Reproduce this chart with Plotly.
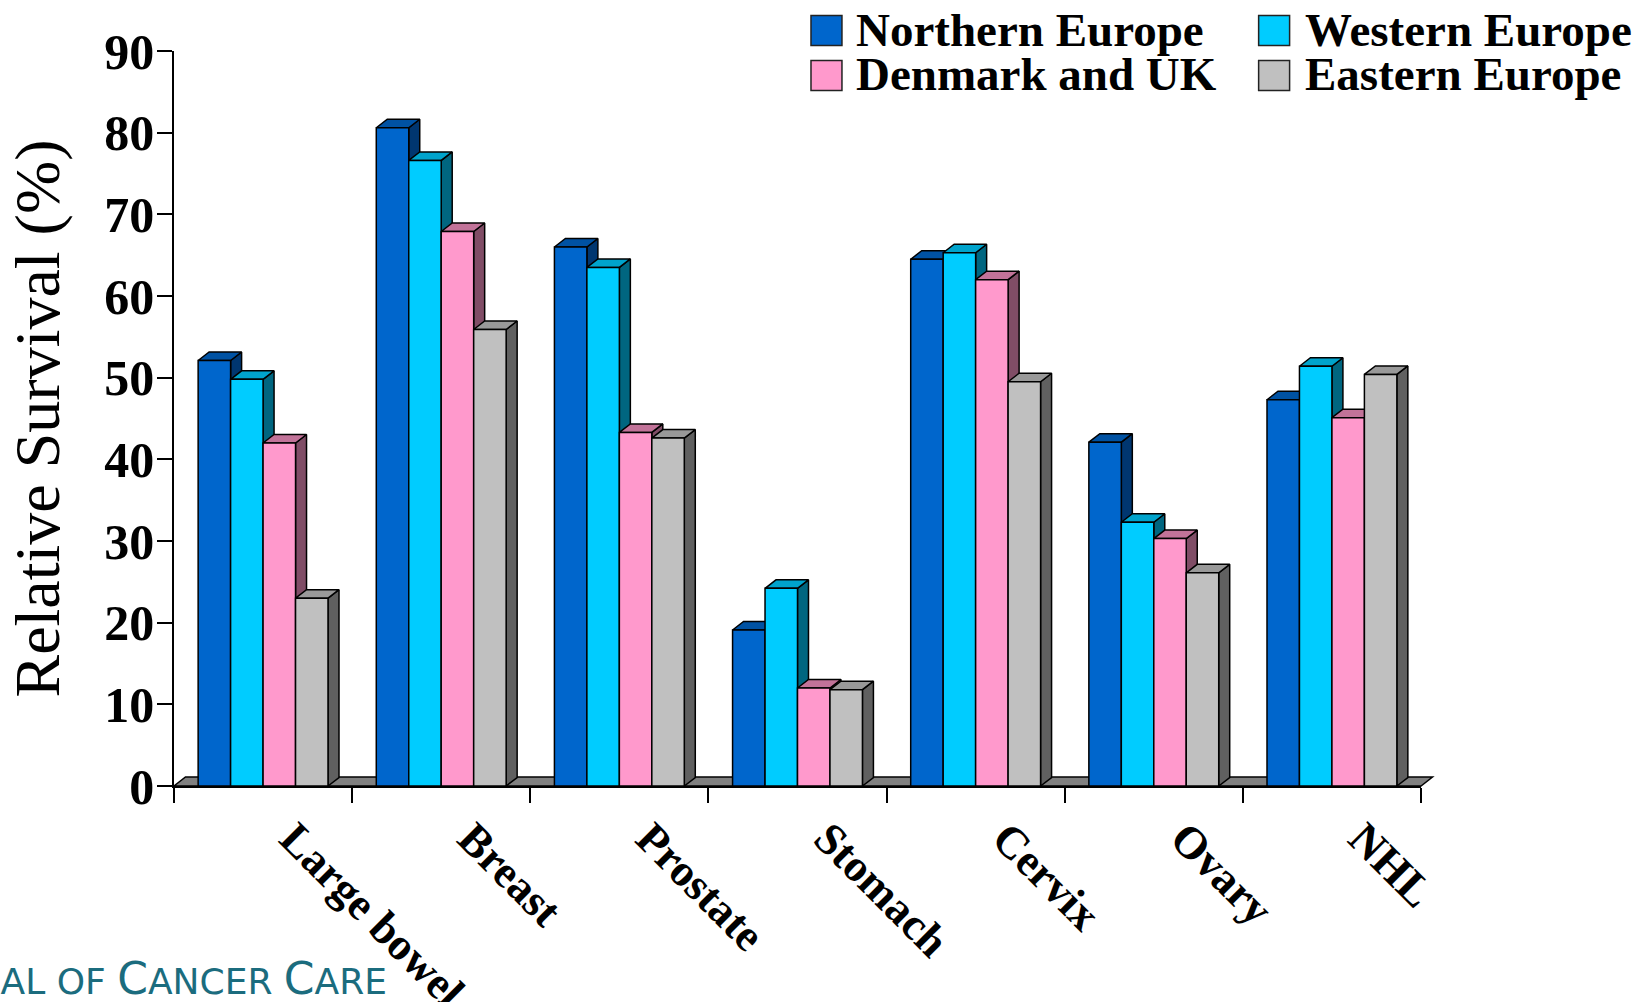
import plotly.graph_objects as go

# Relative survival (%) by cancer site and region
sites = ["Large bowel", "Breast", "Prostate", "Stomach", "Cervix", "Ovary", "NHL"]
regions = ["Northern Europe", "Western Europe", "Denmark and UK", "Eastern Europe"]
northern = [52.1, 80.6, 66.0, 19.1, 64.5, 42.1, 47.3]
western = [49.8, 76.6, 63.5, 24.2, 65.3, 32.3, 51.4]
denmark_uk = [42.0, 67.9, 43.3, 12.0, 62.0, 30.3, 45.1]
eastern = [23.0, 55.9, 42.6, 11.8, 49.5, 26.1, 50.4]
y_ticks = [0, 10, 20, 30, 40, 50, 60, 70, 80, 90]

front_colors = ["#0066CC", "#00CCFF", "#FF99CC", "#C0C0C0"]
top_colors = ["#0052A3", "#00A3CC", "#C27399", "#999999"]
side_colors = ["#003670", "#006680", "#804D66", "#606060"]
floor_color = "#808080"

W, H = 1651, 1002
LEFT, RIGHT, TOP, BOTTOM = 173.5, 1421.5, 50.5, 786.2
SERIF = "Liberation Serif"

BARGAP = 0.271
BAR_W = (1 - BARGAP) / 4
DX = 11 / ((RIGHT - LEFT) / 7)      # extrusion depth, in category units
DY = 8.5 / ((BOTTOM - TOP) / 90)    # extrusion rise, in percentage units

fig = go.Figure()


def poly_trace(xs, ys, color):
    return go.Scatter(
        x=xs, y=ys, mode="lines", fill="toself", fillcolor=color,
        line=dict(color="#000000", width=1.5), hoverinfo="skip",
        showlegend=False, xaxis="x", yaxis="y",
    )


# Extruded side and top faces, painted series by series
series = [northern, western, denmark_uk, eastern]
for s, values in enumerate(series):
    side_x, side_y, top_x, top_y = [], [], [], []
    for i, v in enumerate(values):
        x0 = i - (1 - BARGAP) / 2 + s * BAR_W
        x1 = x0 + BAR_W
        side_x += [x1, x1 + DX, x1 + DX, x1, x1, None]
        side_y += [0, DY, v + DY, v, 0, None]
        top_x += [x0, x0 + DX, x1 + DX, x1, x0, None]
        top_y += [v, v + DY, v + DY, v, v, None]
    fig.add_trace(poly_trace(side_x, side_y, side_colors[s]))
    fig.add_trace(poly_trace(top_x, top_y, top_colors[s]))

# Front faces sit on an overlaid subplot so they cover the faces behind them
for s, values in enumerate(series):
    fig.add_trace(go.Bar(
        x=list(range(len(sites))), y=values, name=regions[s],
        marker=dict(color=front_colors[s], line=dict(color="#000000", width=1.5)),
        showlegend=False, xaxis="x2", yaxis="y2",
    ))

x_range = [-0.5, 6.5]
y_range = [0, 90]
boundaries = [i - 0.5 for i in range(len(sites) + 1)]


def px_x(px):
    return (px - LEFT) / (RIGHT - LEFT)


def px_y(px):
    return (BOTTOM - px) / (BOTTOM - TOP)


shapes, annotations = [], []

# Floor strip behind the columns; it overhangs the end of the axis
floor_rise = 9
floor_run = 11.5
shapes.append(dict(
    type="path", xref="paper", yref="paper", layer="below",
    path=(f"M{px_x(LEFT)},{px_y(BOTTOM)} L{px_x(RIGHT)},{px_y(BOTTOM)} "
          f"L{px_x(RIGHT + floor_run)},{px_y(BOTTOM - floor_rise)} "
          f"L{px_x(LEFT + floor_run)},{px_y(BOTTOM - floor_rise)} Z"),
    fillcolor=floor_color, line=dict(color="#000000", width=1.5),
))

# Two-column key drawn at full size
key_rows = [(0, 0, 0), (1, 0, 1), (2, 1, 0), (3, 1, 1)]
key_col_x = [811, 1259]
key_text_x = [854, 1303]
key_row_y = [15, 60]
for s, row, col in key_rows:
    shapes.append(dict(
        type="rect", xref="paper", yref="paper",
        x0=px_x(key_col_x[col]), x1=px_x(key_col_x[col] + 31),
        y0=px_y(key_row_y[row]), y1=px_y(key_row_y[row] + 30),
        fillcolor=front_colors[s], line=dict(color="#222222", width=1.5),
    ))
    annotations.append(dict(
        xref="paper", yref="paper", x=px_x(key_text_x[col]),
        y=px_y(key_row_y[row] + 14), xanchor="left", yanchor="middle",
        text=f"<b>{regions[s]}</b>", showarrow=False,
        font=dict(family=SERIF, size=47, color="#000000"),
    ))

# Journal credit running off the lower-left corner
big, small = 44, 36
credit = (f'<span style="font-size:{big}px">E</span>UROPEAN '
          f'<span style="font-size:{big}px">J</span>OURNAL OF '
          f'<span style="font-size:{big}px">C</span>ANCER '
          f'<span style="font-size:{big}px">C</span>ARE')
annotations.append(dict(
    xref="paper", yref="paper", x=px_x(389), y=px_y(1006),
    xanchor="right", yanchor="bottom", text=credit, showarrow=False,
    font=dict(family="DejaVu Sans", size=small, color="#1B6C7E"),
))

axis_line = dict(showline=True, linecolor="#000000", linewidth=1.5)
fig.update_layout(
    width=W, height=H,
    margin=dict(l=LEFT, r=W - RIGHT, t=TOP, b=H - BOTTOM, autoexpand=False),
    paper_bgcolor="#FFFFFF", plot_bgcolor="rgba(0,0,0,0)",
    barmode="group", bargap=BARGAP, bargroupgap=0,
    showlegend=False, shapes=shapes, annotations=annotations,
    xaxis=dict(
        range=x_range, tickmode="array", tickvals=list(range(len(sites))),
        ticktext=[f"<b>{s}</b>" for s in sites], tickangle=45,
        ticks="", ticklabelstandoff=6, ticklabelshift=30, showgrid=False, zeroline=False,
        tickfont=dict(family=SERIF, size=45, color="#000000"),
        minor=dict(tickmode="array", tickvals=boundaries, ticks="outside",
                   ticklen=15, tickwidth=1.5, tickcolor="#000000", showgrid=False),
        **axis_line,
    ),
    yaxis=dict(
        range=y_range, tickmode="array", tickvals=y_ticks,
        ticktext=[f"<b>{t}</b>" for t in y_ticks],
        ticks="outside", ticklen=15, tickwidth=1.5, tickcolor="#000000",
        ticklabelstandoff=-7, showgrid=False, zeroline=False,
        tickfont=dict(family=SERIF, size=50, color="#000000"),
        title=dict(text="Relative Survival (%)", standoff=24,
                   font=dict(family=SERIF, size=64, color="#000000")),
        **axis_line,
    ),
    xaxis2=dict(range=x_range, overlaying="x", visible=False),
    yaxis2=dict(range=y_range, overlaying="y", visible=False),
)

fig.write_html("out.html")
